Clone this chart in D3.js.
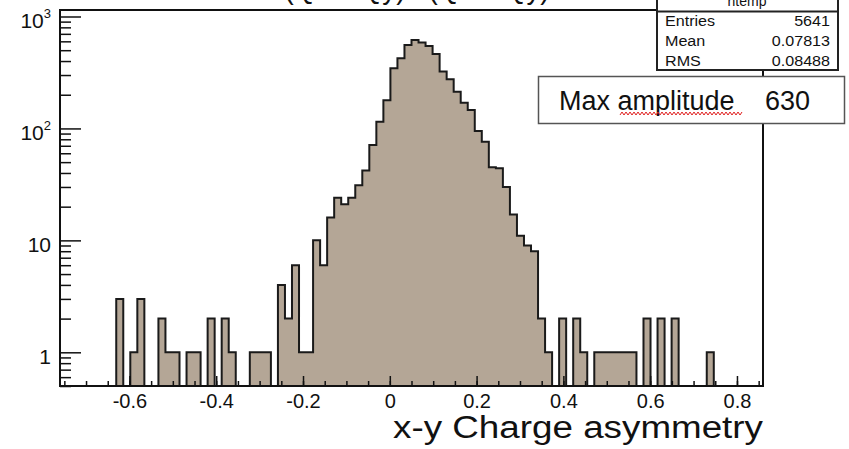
<!DOCTYPE html>
<html>
<head>
<meta charset="utf-8">
<script src="https://cdn.jsdelivr.net/npm/d3@7"></script>
<style>
body { margin: 0; background: #fff; }
svg text { font-family: "Liberation Sans", Arial, Helvetica, sans-serif; fill: #111; }
</style>
</head>
<body>
<div id="chart"></div>
<script>
var width = 849, height = 449;

// histogram: 100 equal bins over this x range
var binRange = [-0.76, 0.86];
var binCounts = [
    0, 0, 0, 0, 0, 0, 0, 0, 3, 0,
    1, 3, 0, 0, 2, 1, 1, 0, 1, 1,
    0, 2, 0, 2, 1, 0, 0, 1, 1, 1,
    0, 4, 2, 6, 1, 1, 10, 6, 16, 24,
    21, 24, 31, 42, 71, 115, 179, 345, 424, 557,
    618, 585, 546, 463, 322, 275, 213, 170, 146, 95,
    76, 45, 44, 30, 17, 11, 9, 8, 2, 1,
    0, 2, 0, 2, 1, 0, 1, 1, 1, 1,
    1, 1, 0, 2, 0, 2, 0, 2, 0, 0,
    0, 0, 1, 0, 0, 0, 0, 0, 0, 0
];
var xTickValues = [-0.6, -0.4, -0.2, 0, 0.2, 0.4, 0.6, 0.8];
var yDomain = [0.5, 1143];
var yMajorTicks = [1, 10, 100, 1000];
var yTickBase = ["1", "10", "10", "10"];
var yTickExp = ["", "", "2", "3"];
var histTitle = "(Qx \u2212 Qy) / (Qx + Qy)";
var xTitle = "x-y Charge asymmetry";
var statsName = "htemp";
var statNames = ["Entries", "Mean", "RMS"];
var statValues = ["5641", "0.07813", "0.08488"];
var ampLabel = "Max amplitude";
var ampValue = "630";

var frame = { left: 60, right: 763, top: 10, bottom: 386 };
var fillColor = '#b4a696';

var svg = d3.select('#chart').append('svg')
    .attr('width', width)
    .attr('height', height);

var x = d3.scaleLinear().domain(binRange).range([frame.left, frame.right]);
var y = d3.scaleLog().domain(yDomain).range([frame.bottom, frame.top]);

function stretch(sel, factor) {
    sel.each(function () {
        var len = this.getComputedTextLength();
        d3.select(this).attr('textLength', len * factor).attr('lengthAdjust', 'spacingAndGlyphs');
    });
}

// bin edges
var binWidth = (binRange[1] - binRange[0]) / binCounts.length;
var steps = binCounts.map(function (c, i) { return { x: binRange[0] + i * binWidth, c: c }; });
steps.push({ x: binRange[1], c: binCounts[binCounts.length - 1] });

svg.append('clipPath').attr('id', 'frameClip')
    .append('rect')
    .attr('x', frame.left).attr('y', frame.top)
    .attr('width', frame.right - frame.left).attr('height', frame.bottom - frame.top);

var area = d3.area()
    .x(function (d) { return x(d.x); })
    .y0(frame.bottom)
    .y1(function (d) { return d.c > 0 ? y(d.c) : frame.bottom; })
    .curve(d3.curveStepAfter);

svg.append('path')
    .datum(steps)
    .attr('clip-path', 'url(#frameClip)')
    .attr('d', area)
    .attr('fill', fillColor)
    .attr('stroke', '#1a1a1a')
    .attr('stroke-width', 2)
    .attr('stroke-linejoin', 'miter');

// title, mostly cut off by the top edge (as in the screenshot)
svg.append('text')
    .attr('x', 417).attr('y', -1)
    .attr('text-anchor', 'middle')
    .style('font-size', '30px')
    .attr('textLength', 265).attr('lengthAdjust', 'spacingAndGlyphs')
    .text(histTitle);

// x axis: minor ticks every 0.05, majors labelled
var xMinor = d3.range(-15, 18).map(function (k) { return k * 0.05; });
svg.append('g')
    .attr('transform', 'translate(0,' + frame.bottom + ')')
    .call(d3.axisBottom(x).tickValues(xMinor).tickSizeInner(-5).tickSizeOuter(0).tickFormat(''))
    .call(function (g) { g.select('.domain').remove(); })
    .selectAll('line').attr('stroke', '#111').attr('stroke-width', 1.5);

var xAxis = svg.append('g')
    .attr('transform', 'translate(0,' + frame.bottom + ')')
    .call(d3.axisBottom(x).tickValues(xTickValues).tickSizeInner(-10).tickSizeOuter(0).tickPadding(8)
        .tickFormat(function (d) { return d3.format('.1~f')(d).replace('\u2212', '-'); }));
xAxis.select('.domain').remove();
xAxis.selectAll('line').attr('stroke', '#111').attr('stroke-width', 1.5);
xAxis.selectAll('text')
    .style('font-size', '20px')
    .attr('fill', '#222')
    .style('font-family', '"Liberation Sans", Arial, sans-serif');

svg.append('text')
    .attr('x', frame.right).attr('y', 438)
    .attr('text-anchor', 'end')
    .style('font-size', '31px')
    .attr('textLength', 370).attr('lengthAdjust', 'spacingAndGlyphs')
    .text(xTitle);

// y axis: log, majors at decades, minors at 2..9
var yMinor = [];
[0.1, 1, 10, 100].forEach(function (dec) {
    d3.range(2, 10).forEach(function (m) {
        var v = dec * m;
        if (v >= yDomain[0] && v <= yDomain[1]) yMinor.push(v);
    });
});

svg.append('g')
    .attr('transform', 'translate(' + frame.left + ',0)')
    .call(d3.axisLeft(y).tickValues(yMinor).tickSizeInner(-11).tickSizeOuter(0).tickFormat(''))
    .call(function (g) { g.select('.domain').remove(); })
    .selectAll('line').attr('stroke', '#111').attr('stroke-width', 1.5);

svg.append('g')
    .attr('transform', 'translate(' + frame.left + ',0)')
    .call(d3.axisLeft(y).tickValues(yMajorTicks).tickSizeInner(-21).tickSizeOuter(0).tickFormat(''))
    .call(function (g) { g.select('.domain').remove(); })
    .selectAll('line').attr('stroke', '#111').attr('stroke-width', 1.5);

var yLabels = svg.append('g').selectAll('text')
    .data(yMajorTicks)
    .join('text')
    .attr('x', 51)
    .attr('y', function (d) { return y(d) + 12; })
    .attr('text-anchor', 'end')
    .style('font-size', '21px')
    .attr('fill', '#222');
yLabels.append('tspan').text(function (d, i) { return yTickBase[i]; });
yLabels.append('tspan')
    .attr('dy', -10)
    .style('font-size', '13px')
    .text(function (d, i) { return yTickExp[i]; });

// frame
svg.append('rect')
    .attr('x', frame.left).attr('y', frame.top)
    .attr('width', frame.right - frame.left).attr('height', frame.bottom - frame.top)
    .attr('fill', 'none')
    .attr('stroke', '#111')
    .attr('stroke-width', 2);

// stats box
var stats = svg.append('g');
stats.append('rect')
    .attr('x', 657).attr('y', -20)
    .attr('width', 181).attr('height', 90)
    .attr('fill', '#fff')
    .attr('stroke', '#222')
    .attr('stroke-width', 2);
stats.append('line')
    .attr('x1', 657).attr('x2', 838)
    .attr('y1', 11.5).attr('y2', 11.5)
    .attr('stroke', '#222').attr('stroke-width', 2);
stats.append('text')
    .attr('x', 747).attr('y', 6)
    .attr('text-anchor', 'middle')
    .style('font-size', '14px')
    .text(statsName);
stats.selectAll('text.sname')
    .data(statNames)
    .join('text')
    .attr('class', 'sname')
    .attr('x', 665)
    .attr('y', function (d, i) { return 26 + i * 20; })
    .style('font-size', '14px')
    .text(function (d) { return d; })
    .call(stretch, 1.15);
stats.selectAll('text.sval')
    .data(statValues)
    .join('text')
    .attr('class', 'sval')
    .attr('x', 830)
    .attr('y', function (d, i) { return 26 + i * 20; })
    .attr('text-anchor', 'end')
    .style('font-size', '14px')
    .text(function (d) { return d; })
    .call(stretch, 1.15);

// max amplitude box
var amp = svg.append('g');
amp.append('rect')
    .attr('x', 538.5).attr('y', 76.5)
    .attr('width', 306).attr('height', 47)
    .attr('fill', '#fff')
    .attr('stroke', '#555')
    .attr('stroke-width', 1.5);
amp.append('text')
    .attr('x', 559).attr('y', 110)
    .style('font-size', '27px')
    .text(ampLabel);
amp.append('text')
    .attr('x', 765).attr('y', 110)
    .style('font-size', '27px')
    .text(ampValue);

// spell-check squiggle under "amplitude"
var squiggle = d3.range(620, 743, 2).map(function (px, i) { return [px, i % 2 ? 112 : 115]; });
amp.append('path')
    .attr('d', d3.line()(squiggle))
    .attr('fill', 'none')
    .attr('stroke', '#e02020')
    .attr('stroke-width', 1);
</script>
</body>
</html>
